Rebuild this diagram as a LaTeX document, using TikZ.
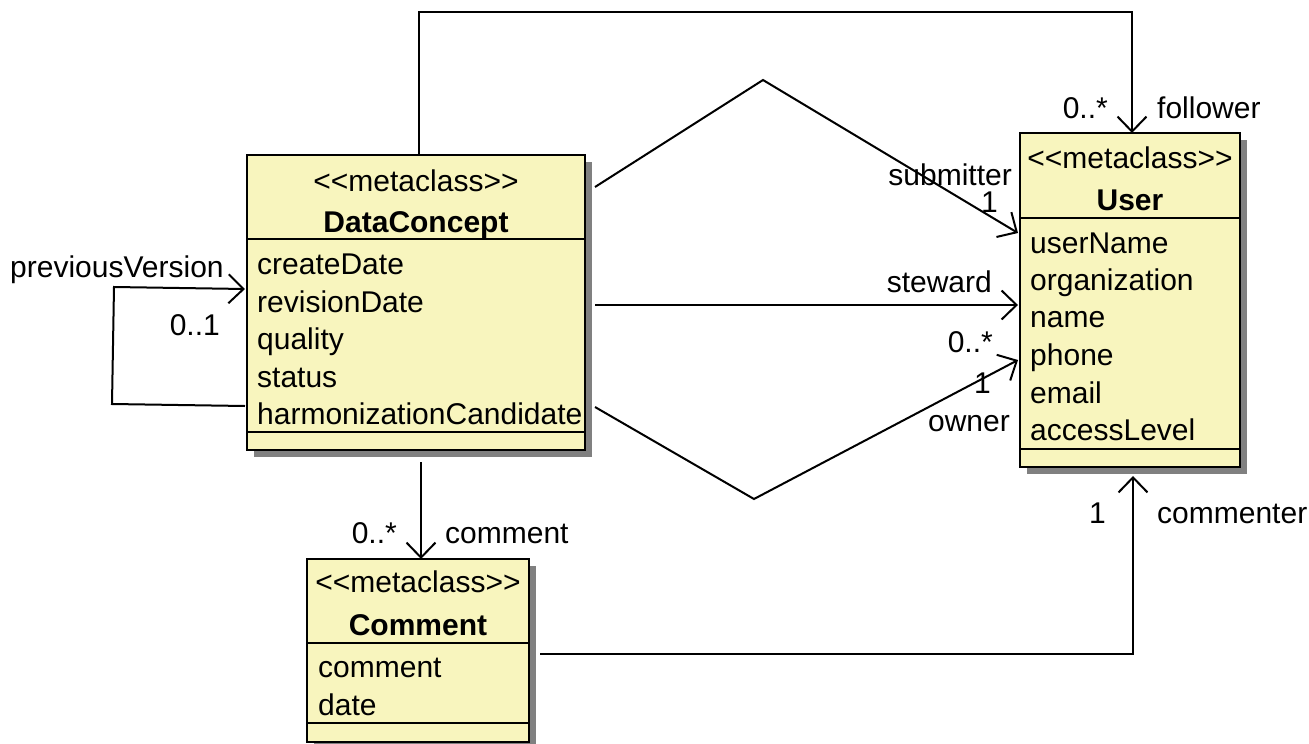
\documentclass[tikz,border=0pt]{standalone}
\usepackage{fontspec}
\setmainfont{Liberation Sans}
\usetikzlibrary{arrows.meta,shadows}
\definecolor{classfill}{RGB}{248,245,190}
\definecolor{shadowgray}{RGB}{128,128,128}
\newcommand\mcstereo{<\kern0pt<metaclass>\kern0pt>}
\begin{document}
\begin{tikzpicture}[x=1pt,y=-1pt,
  font=\fontsize{30}{36}\selectfont,
  classbox/.style={draw=black, line width=2.4pt, fill=classfill, inner sep=0pt, outer sep=0pt, anchor=north west,
    drop shadow={shadow xshift=7pt, shadow yshift=-7pt, fill=shadowgray, opacity=1}},
  lbl/.style={inner sep=0pt, anchor=base west},
  lblr/.style={inner sep=0pt, anchor=base east},
  lblc/.style={inner sep=0pt, anchor=base},
  sep/.style={line width=2pt},
  assoc/.style={line width=2pt, line join=miter, -{Straight Barb[length=15pt,width=29pt]}},
  plain/.style={line width=2pt}]
\useasboundingbox (0,0) rectangle (1309,744);

% ---------- DataConcept ----------
\node[classbox, minimum width=338pt, minimum height=295pt] (dc) at (247,155) {};
\draw[sep] (247,239) -- (585,239);
\draw[sep] (247,432) -- (585,432);
\node[lblc] (dcst) at (416,191) {\mcstereo};
\node[lblc] (dcname) at (416,232) {\textbf{DataConcept}};
\node[lbl] (dca1) at (257,274) {createDate};
\node[lbl] (dca2) at (257,312) {revisionDate};
\node[lbl] (dca3) at (257,349) {quality};
\node[lbl] (dca4) at (257,387) {status};
\node[lbl] (dca5) at (257,424) {harmonizationCandidate};

% ---------- User ----------
\node[classbox, minimum width=220pt, minimum height=334pt] (user) at (1020,133) {};
\draw[sep] (1020,218) -- (1240,218);
\draw[sep] (1020,449) -- (1240,449);
\node[lblc] (ust) at (1130,168) {\mcstereo};
\node[lblc] (uname) at (1130,210) {\textbf{User}};
\node[lbl] (ua1) at (1030,253) {userName};
\node[lbl] (ua2) at (1030,290) {organization};
\node[lbl] (ua3) at (1030,327) {name};
\node[lbl] (ua4) at (1030,365) {phone};
\node[lbl] (ua5) at (1030,403) {email};
\node[lbl] (ua6) at (1030,440) {accessLevel};

% ---------- Comment ----------
\node[classbox, minimum width=222pt, minimum height=183pt] (cm) at (307,559) {};
\draw[sep] (307,643) -- (529,643);
\draw[sep] (307,723) -- (529,723);
\node[lblc] (cst) at (418,592) {\mcstereo};
\node[lblc] (cname) at (418,635) {\textbf{Comment}};
\node[lbl] (ca1) at (318,677) {comment};
\node[lbl] (ca2) at (318,715) {date};

% ---------- follower ----------
\draw[assoc] ([xshift=3pt]dc.north) -- ++(0,-143) -| ([xshift=2pt]user.north);
\node[lblr] (folm) at (1108,118) {0..*};
\node[lbl] (foll) at (1157,118) {follower};

% ---------- submitter ----------
\coordinate (subtop) at (763,80);
\draw[assoc] ([shift={(10,32)}]dc.north east) -- (subtop) -- ([shift={(-2,100)}]user.north west);
\node[lblr] (subl) at (1012,185) {submitter};
\node[lblr] (subm) at (998,212) {1};

% ---------- steward ----------
\draw[assoc] ([shift={(10,150)}]dc.north east) -- ([shift={(-2,172)}]user.north west);
\node[lblr] (stwl) at (992,292) {steward};

% ---------- owner ----------
\coordinate (ownbot) at (754,499);
\draw[assoc] ([shift={(10,252)}]dc.north east) -- (ownbot) -- ([shift={(-2,227)}]user.north west);
\node[lblr] (ownm1) at (993,352) {0..*};
\node[lblr] (ownm2) at (991,393) {1};
\node[lblr] (ownl) at (1010,431) {owner};

% ---------- previousVersion ----------
\coordinate (pv1) at (112,404);
\coordinate (pv2) at (114,287);
\draw[assoc] ([shift={(-2,251)}]dc.north west) -- (pv1) -- (pv2) -- ([shift={(-2,134)}]dc.north west);
\node[lbl] (pvl) at (10,277) {previousVersion};
\node[lblr] (pvm) at (220,335) {0..1};

% ---------- comment ----------
\draw[assoc] ([shift={(5,12)}]dc.south) -- ([xshift=3pt]cm.north);
\node[lblr] (cmm) at (397,543) {0..*};
\node[lbl] (cml) at (445,543) {comment};

% ---------- commenter ----------
\draw[assoc] ([shift={(11,95)}]cm.north east) -| ([shift={(3,9)}]user.south);
\node[lblr] (ctm) at (1106,523) {1};
\node[lbl] (ctl) at (1157,523) {commenter};
\end{tikzpicture}
\end{document}
